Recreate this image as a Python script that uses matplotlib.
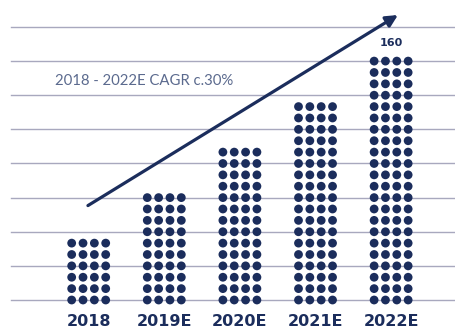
import matplotlib
matplotlib.use('Agg')
import matplotlib.pyplot as plt

# Data (rows of 4 dots per year)
years = ['2018', '2019E', '2020E', '2021E', '2022E']
dot_rows = [6, 10, 14, 18, 22]
top_label = '160'
cagr_text = '2018 - 2022E CAGR c.30%'

navy = '#1b2d5c'
grid_col = '#a8a8be'

fig = plt.figure(figsize=(4.56, 3.33), dpi=100)
ax = fig.add_axes([0, 0, 1, 1])
ax.set_xlim(-1.173, 4.858)
ax.set_ylim(-2.9, 26.37)
ax.axis('off')

# Horizontal grid lines every 3 rows
for g in range(0, 25, 3):
    ax.axhline(g, xmin=0.024, xmax=1, color=grid_col, lw=1, zorder=1)

# Dot columns
offsets = [-1.5, -0.5, 0.5, 1.5]
for i, rows in enumerate(dot_rows):
    xs, ys = [], []
    for r in range(rows):
        for o in offsets:
            xs.append(i + o * 0.15)
            ys.append(r)
    ax.scatter(xs, ys, s=40, color=navy, edgecolors='none', zorder=3)
    ax.text(i, -1.93, years[i], ha='center', va='center', fontsize=11.5,
            fontweight='bold', color=navy)

# Value above the last column
ax.text(len(years) - 1, 22.6, top_label, ha='center', va='center',
        fontsize=8, fontweight='bold', color=navy)

# Growth arrow
ax.annotate('', xy=(4.09, 25.05), xytext=(-0.01, 8.3),
            arrowprops=dict(arrowstyle='-|>,head_length=0.7,head_width=0.35',
                            color=navy, lw=2.3, shrinkA=0, shrinkB=0),
            zorder=4)

ax.text(-0.446, 19.25, cagr_text, ha='left', va='center', fontsize=10.7,
        color='#5b6a8e', fontfamily='Lato')

fig.savefig('out.png', dpi=100)
